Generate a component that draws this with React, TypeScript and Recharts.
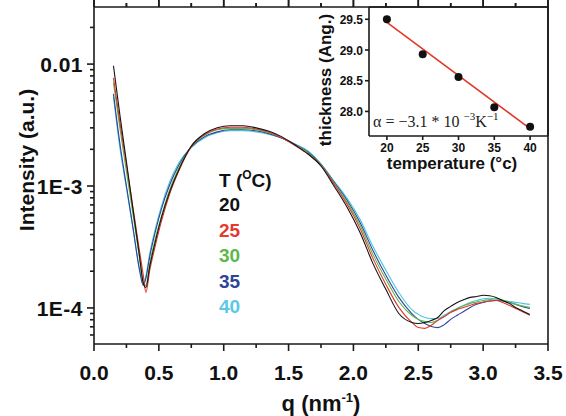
import { LineChart, Line, XAxis, YAxis, ComposedChart, Scatter } from 'recharts';

// scattering curves, q in nm^-1, intensity in a.u.
const qValues = [
  0.15, 0.2, 0.25, 0.3, 0.35, 0.38, 0.4, 0.43, 0.47, 0.52, 0.58, 0.65,
  0.75, 0.85, 0.95, 1.05, 1.15, 1.25, 1.35, 1.45, 1.55, 1.65,
  1.75, 1.85, 1.95, 2.05, 2.15, 2.25, 2.35, 2.45,
  2.5, 2.55, 2.6, 2.65, 2.7, 2.75, 2.8, 2.85, 2.9, 2.95, 3.0, 3.05, 3.1, 3.15, 3.2, 3.25, 3.3, 3.36,
];

const int20 = [
  9.7e-3, 3.8e-3, 1.58e-3, 6.5e-4, 2.7e-4, 1.6e-4, 1.47e-4, 2.2e-4, 3.4e-4, 5.5e-4, 8.75e-4, 1.33e-3,
  2.13e-3, 2.68e-3, 3.0e-3, 3.12e-3, 3.12e-3, 3.0e-3, 2.81e-3, 2.53e-3, 2.17e-3, 1.83e-3,
  1.46e-3, 1.0e-3, 6.72e-4, 4.18e-4, 2.32e-4, 1.42e-4, 9.0e-5, 7.6e-5,
  7.45e-5, 7.6e-5, 7.9e-5, 8.35e-5, 9.5e-5, 1.03e-4, 1.11e-4, 1.17e-4, 1.22e-4, 1.24e-4, 1.27e-4, 1.26e-4, 1.22e-4, 1.15e-4, 1.09e-4, 1.01e-4, 9.5e-5, 8.85e-5,
];
const int25 = [
  7.7e-3, 3.3e-3, 1.49e-3, 6.7e-4, 2.97e-4, 1.85e-4, 1.34e-4, 2.04e-4, 3.15e-4, 5.15e-4, 8.4e-4, 1.3e-3,
  2.1e-3, 2.63e-3, 2.94e-3, 3.03e-3, 3.03e-3, 2.94e-3, 2.76e-3, 2.48e-3, 2.15e-3, 1.83e-3,
  1.47e-3, 1.04e-3, 7.11e-4, 4.51e-4, 2.55e-4, 1.56e-4, 1.01e-4, 7.6e-5,
  6.9e-5, 6.8e-5, 7.2e-5, 7.9e-5, 8.5e-5, 9.2e-5, 9.7e-5, 1.01e-4, 1.05e-4, 1.09e-4, 1.12e-4, 1.14e-4, 1.15e-4, 1.11e-4, 1.05e-4, 9.9e-5, 9.35e-5, 8.7e-5,
];
const int30 = [
  7.05e-3, 2.97e-3, 1.32e-3, 5.9e-4, 2.6e-4, 1.6e-4, 1.53e-4, 2.32e-4, 3.6e-4, 5.67e-4, 9.1e-4, 1.38e-3,
  2.11e-3, 2.6e-3, 2.89e-3, 2.97e-3, 2.97e-3, 2.89e-3, 2.73e-3, 2.48e-3, 2.17e-3, 1.87e-3,
  1.49e-3, 1.06e-3, 7.38e-4, 4.78e-4, 2.75e-4, 1.72e-4, 1.13e-4, 8.7e-5,
  8.05e-5, 7.75e-5, 7.6e-5, 7.9e-5, 8.5e-5, 9.2e-5, 9.9e-5, 1.04e-4, 1.09e-4, 1.12e-4, 1.15e-4, 1.17e-4, 1.19e-4, 1.16e-4, 1.11e-4, 1.07e-4, 1.04e-4, 1.01e-4,
];
const int35 = [
  5.7e-3, 2.22e-3, 1.0e-3, 4.6e-4, 2.07e-4, 1.53e-4, 1.75e-4, 2.65e-4, 4.1e-4, 6.5e-4, 1.0e-3, 1.46e-3,
  2.09e-3, 2.53e-3, 2.78e-3, 2.89e-3, 2.89e-3, 2.84e-3, 2.68e-3, 2.46e-3, 2.19e-3, 1.9e-3,
  1.5e-3, 1.08e-3, 7.67e-4, 5.05e-4, 2.97e-4, 1.85e-4, 1.22e-4, 9.0e-5,
  8.05e-5, 7.45e-5, 7.05e-5, 6.9e-5, 7.3e-5, 8.05e-5, 8.7e-5, 9.35e-5, 1.01e-4, 1.07e-4, 1.11e-4, 1.14e-4, 1.15e-4, 1.14e-4, 1.11e-4, 1.07e-4, 1.03e-4, 9.9e-5,
];
const int40 = [
  5.4e-3, 2.04e-3, 9.6e-4, 4.5e-4, 2.1e-4, 1.56e-4, 1.82e-4, 2.81e-4, 4.35e-4, 6.85e-4, 1.06e-3, 1.52e-3,
  2.07e-3, 2.48e-3, 2.73e-3, 2.84e-3, 2.84e-3, 2.78e-3, 2.65e-3, 2.46e-3, 2.21e-3, 1.94e-3,
  1.52e-3, 1.1e-3, 7.97e-4, 5.35e-4, 3.2e-4, 2.04e-4, 1.34e-4, 9.7e-5,
  8.85e-5, 8.35e-5, 8.2e-5, 8.2e-5, 8.7e-5, 9.35e-5, 9.9e-5, 1.05e-4, 1.11e-4, 1.15e-4, 1.19e-4, 1.2e-4, 1.18e-4, 1.15e-4, 1.13e-4, 1.11e-4, 1.09e-4, 1.07e-4,
];

const xTicks = [0, 0.25, 0.5, 0.75, 1, 1.25, 1.5, 1.75, 2, 2.25, 2.5, 2.75, 3, 3.25, 3.5];
const xMajorTicks = [0, 0.5, 1, 1.5, 2, 2.5, 3, 3.5];
const xMajorLabels = ['0.0', '0.5', '1.0', '1.5', '2.0', '2.5', '3.0', '3.5'];
const yMajorTicks = [1e-4, 1e-3, 1e-2];
const yMajorLabels = ['1E-4', '1E-3', '0.01'];
const yMinorTicks = [
  6e-5, 7e-5, 8e-5, 9e-5,
  2e-4, 3e-4, 4e-4, 5e-4, 6e-4, 7e-4, 8e-4, 9e-4,
  2e-3, 3e-3, 4e-3, 5e-3, 6e-3, 7e-3, 8e-3, 9e-3,
  2e-2,
];

// inset: film thickness vs temperature
const temps = [20, 25, 30, 35, 40];
const thickness = [29.5, 28.93, 28.56, 28.07, 27.75];
const fitTemps = [20, 40];
const fitThickness = [29.45, 27.72];
const insetXTicks = [20, 25, 30, 35, 40];
const insetYTicks = [28.0, 28.5, 29.0, 29.5];

const legendTemps = ['20', '25', '30', '35', '40'];
const COLORS = ['#141414', '#e2352d', '#5ab748', '#2d4398', '#4cc5e3'];
const LEGEND_COLORS = ['#111111', '#e63a30', '#5cb84a', '#2c4597', '#5ac8e6'];
const SERIES = [int20, int25, int30, int35, int40];

const AXIS = '#1a1a1a';
const TICK_W = 1.6;
const SANS = '"Liberation Sans", Arial, sans-serif';
const SERIF = '"Liberation Serif", "Times New Roman", serif';
const PLOT_TOP = 7;

const rows = qValues.map((q, i) => {
  const row: Record<string, number> = { q };
  SERIES.forEach((s, k) => {
    row[`t${legendTemps[k]}`] = s[i];
  });
  return row;
});

const pointRows = temps.map((t, i) => ({ t, d: thickness[i] }));
const fitRows = fitTemps.map((t, i) => ({ t, d: fitThickness[i] }));

function LeftLogTick({ x, y, payload }: any) {
  const idx = yMajorTicks.indexOf(payload.value);
  const major = idx >= 0;
  return (
    <g>
      <line x1={x} y1={y} x2={x - (major ? 7 : 4)} y2={y} stroke={AXIS} strokeWidth={TICK_W} />
      {major && (
        <text x={x - 11} y={y + 8} textAnchor="end" fontFamily={SANS} fontWeight="bold" fontSize={21} letterSpacing={0.5} fill="#111">
          {yMajorLabels[idx]}
        </text>
      )}
    </g>
  );
}

// bottom tick, plus the matching outward tick on the top frame
function BottomTick({ x, y, payload }: any) {
  const idx = xMajorTicks.indexOf(payload.value);
  const major = idx >= 0;
  const len = major ? 7 : 4;
  return (
    <g>
      <line x1={x} y1={y} x2={x} y2={y + len} stroke={AXIS} strokeWidth={TICK_W} />
      <line x1={x} y1={PLOT_TOP} x2={x} y2={PLOT_TOP - len} stroke={AXIS} strokeWidth={TICK_W} />
      {major && (
        <text x={x} y={y + 36} textAnchor="middle" fontFamily={SANS} fontWeight="bold" fontSize={21} fill="#111">
          {xMajorLabels[idx]}
        </text>
      )}
    </g>
  );
}

function TopTick({ x, y, payload }: any) {
  const major = xMajorTicks.includes(payload.value);
  return <line x1={x} y1={y} x2={x} y2={y - (major ? 7 : 4)} stroke={AXIS} strokeWidth={TICK_W} />;
}

function InsetLeftTick({ x, y, payload }: any) {
  return (
    <g>
      <line x1={x} y1={y} x2={x - 4} y2={y} stroke={AXIS} strokeWidth={TICK_W} />
      <text x={x - 6} y={y + 4.5} textAnchor="end" fontFamily={SANS} fontWeight="bold" fontSize={12} fill="#111">
        {payload.value.toFixed(1)}
      </text>
    </g>
  );
}

function InsetBottomTick({ x, y, payload }: any) {
  return (
    <g>
      <line x1={x} y1={y} x2={x} y2={y + 4} stroke={AXIS} strokeWidth={TICK_W} />
      <text x={x} y={y + 16} textAnchor="middle" fontFamily={SANS} fontWeight="bold" fontSize={12} fill="#111">
        {payload.value}
      </text>
    </g>
  );
}

const axisLine = { stroke: AXIS, strokeWidth: 1.6 };

export default function App() {
  return (
    <div style={{ position: 'absolute', left: 0, top: 0, width: 566, height: 416, background: '#fff' }}>
      <div style={{ position: 'absolute', left: 0, top: 0 }}>
        <LineChart width={566} height={416} data={rows} margin={{ top: 0, right: 0, bottom: 0, left: 0 }}>
          <XAxis
            dataKey="q"
            type="number"
            domain={[0, 3.5]}
            ticks={xTicks}
            interval={0}
            height={72}
            tickSize={0}
            tickMargin={0}
            tickLine={false}
            axisLine={axisLine}
            tick={<BottomTick />}
            allowDataOverflow
          />
          <XAxis
            xAxisId="top"
            dataKey="q"
            orientation="top"
            type="number"
            domain={[0, 3.5]}
            ticks={xTicks}
            interval={0}
            height={PLOT_TOP}
            tickSize={0}
            tickMargin={0}
            tickLine={false}
            axisLine={axisLine}
            tick={<TopTick />}
            allowDataOverflow
          />
          <YAxis
            scale="log"
            type="number"
            domain={[5.06e-5, 0.0294]}
            ticks={[...yMinorTicks, ...yMajorTicks]}
            interval={0}
            width={94}
            tickSize={0}
            tickMargin={0}
            tickLine={false}
            axisLine={axisLine}
            tick={<LeftLogTick />}
            allowDataOverflow
          />
          <YAxis yAxisId="right" orientation="right" width={18} domain={[0, 1]} tick={false} tickLine={false} axisLine={axisLine} />
          {[4, 3, 2, 1, 0].map((k) => (
            <Line
              key={legendTemps[k]}
              dataKey={`t${legendTemps[k]}`}
              type="monotone"
              stroke={COLORS[k]}
              strokeWidth={1.1}
              dot={false}
              isAnimationActive={false}
            />
          ))}
        </LineChart>
      </div>

      <div style={{ position: 'absolute', left: 330, top: 0 }}>
        <ComposedChart width={236} height={180} margin={{ top: 0, right: 0, bottom: 0, left: 0 }}>
          <XAxis
            dataKey="t"
            type="number"
            domain={[17.5, 42.5]}
            ticks={insetXTicks}
            interval={0}
            height={44}
            tickSize={0}
            tickMargin={0}
            tickLine={false}
            axisLine={axisLine}
            tick={<InsetBottomTick />}
          />
          <XAxis xAxisId="top" orientation="top" type="number" domain={[0, 1]} height={PLOT_TOP} tick={false} tickLine={false} axisLine={axisLine} />
          <YAxis
            type="number"
            domain={[27.6, 29.7]}
            ticks={insetYTicks}
            interval={0}
            width={39}
            tickSize={0}
            tickMargin={0}
            tickLine={false}
            axisLine={axisLine}
            tick={<InsetLeftTick />}
          />
          <YAxis yAxisId="right" orientation="right" width={18} domain={[0, 1]} tick={false} tickLine={false} axisLine={axisLine} />
          <Line data={fitRows} dataKey="d" type="linear" stroke="#e2362c" strokeWidth={1.6} dot={false} isAnimationActive={false} />
          <Scatter
            data={pointRows}
            dataKey="d"
            isAnimationActive={false}
            shape={(p: any) => <circle cx={p.cx} cy={p.cy} r={4} fill="#111" />}
          />
        </ComposedChart>
      </div>

      <svg width={566} height={416} style={{ position: 'absolute', left: 0, top: 0, pointerEvents: 'none' }}>
        <text transform="translate(34,160) rotate(-90)" textAnchor="middle" fontFamily={SANS} fontWeight="bold" fontSize={21} fill="#111">
          Intensity (a.u.)
        </text>
        <text x={321} y={411} textAnchor="middle" fontFamily={SANS} fontWeight="bold" fontSize={22} fill="#111">
          q (nm<tspan fontSize={13} dy={-9}>-1</tspan><tspan dy={9}>)</tspan>
        </text>

        <text x={219} y={187} fontFamily={SANS} fontWeight="bold" fontSize={19} fill="#111">
          T (<tspan fontSize={12} dy={-8}>O</tspan><tspan dy={8}>C)</tspan>
        </text>
        {legendTemps.map((t, i) => (
          <text key={t} x={219} y={211 + i * 25.5} fontFamily={SANS} fontWeight="bold" fontSize={19} fill={LEGEND_COLORS[i]}>
            {t}
          </text>
        ))}

        <text transform="translate(331,80) rotate(-90)" textAnchor="middle" fontFamily={SANS} fontWeight="bold" fontSize={17} fill="#111">
          thickness (Ang.)
        </text>
        <text x={452} y={169} textAnchor="middle" fontFamily={SANS} fontWeight="bold" fontSize={17} fill="#111">
          temperature (°c)
        </text>
        <text x={373} y={127} fontFamily={SERIF} fontSize={16} fill="#222">
          α = −3.1 * 10 <tspan fontSize={11} dy={-7}>−3</tspan><tspan dy={7}>K</tspan><tspan fontSize={11} dy={-7}>−1</tspan>
        </text>
      </svg>
    </div>
  );
}
